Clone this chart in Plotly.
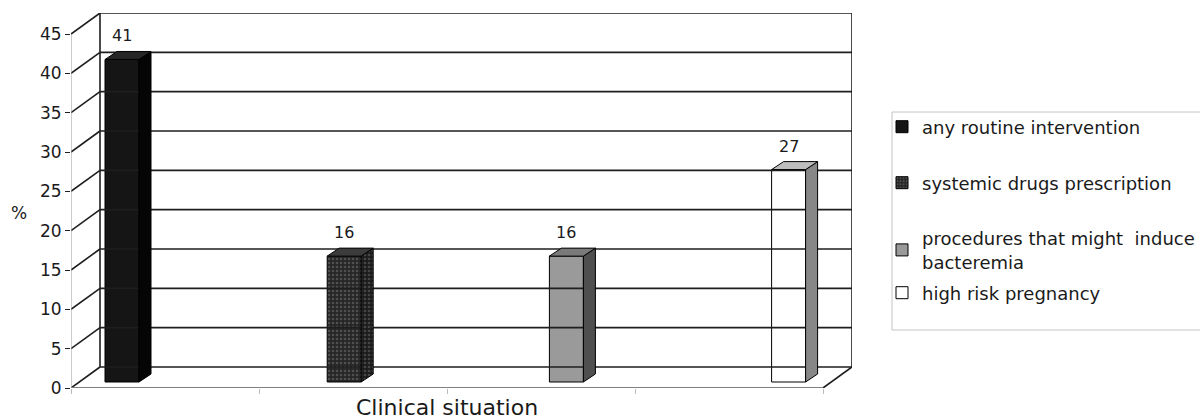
import plotly.graph_objects as go

# --- data ---------------------------------------------------------------
series = [
    "any routine intervention",
    "systemic drugs prescription",
    "procedures that might  induce<br>bacteremia",
    "high risk pregnancy",
]
values = [41, 16, 16, 27]
y_ticks = [0, 5, 10, 15, 20, 25, 30, 35, 40, 45]
x_title = "Clinical situation"
y_title = "%"

# --- styling --------------------------------------------------------------
front_col = ["#151515", "#2e2e2e", "#9a9a9a", "#ffffff"]
side_col = ["#050505", "#1c1c1c", "#4f4f4f", "#878787"]
top_col = ["#262626", "#3c3c3c", "#7a7a7a", "#bdbdbd"]
FONT = "DejaVu Sans"
INK = "#1a1a1a"

# plot area in pixels
L, R, T, B = 71, 852, 13, 388
PW, PH = R - L, B - T

# pseudo-3D geometry (x in pixel-like units, y in value units)
PPU = 375 / 47.67          # pixels per value unit
FLOOR_W = 752              # front floor width
DX, DY = 29, 21 / PPU      # wall depth offset
BAR_W = 34
BDX, BDY = 12, 8 / PPU     # bar depth offset
B0 = 6 / PPU               # bar base height above front floor line
FIRST_C, STEP = 51, 222.2
centers = [FIRST_C + STEP * i for i in range(len(values))]
YMAX = y_ticks[-1]

fig = go.Figure()

def seg(xs, ys, color="#1e1e1e", width=1.6):
    fig.add_trace(go.Scatter(x=xs, y=ys, mode="lines", showlegend=False,
                             hoverinfo="skip", line=dict(color=color, width=width)))

# side wall diagonals and back-wall gridlines
for t in y_ticks:
    seg([0, DX], [t, t + DY])
    seg([DX, FLOOR_W + DX], [t + DY, t + DY])
# wall edges
seg([DX, DX], [DY, YMAX + DY])
seg([FLOOR_W + DX, FLOOR_W + DX], [DY, YMAX + DY])
seg([FLOOR_W, FLOOR_W + DX], [0, DY])
seg([0, 0], [0, YMAX], color="#9a9a9a", width=1)
seg([0, FLOOR_W], [0, 0], color="#808080", width=2)

# bars: side and top faces as polygons, front face as a bar
legends = ["legend", "legend2", "legend3", "legend4"]
for i, (name, v, c) in enumerate(zip(series, values, centers)):
    l, r = c - BAR_W / 2, c + BAR_W / 2
    top = B0 + v
    pat = dict(shape=".", size=4, solidity=0.35, fgcolor="#707070",
               bgcolor=side_col[i]) if i == 1 else None
    fig.add_trace(go.Scatter(
        x=[r, r + BDX, r + BDX, r, r], y=[B0, B0 + BDY, top + BDY, top, B0],
        mode="lines", fill="toself", fillcolor=side_col[i],
        fillpattern=pat, line=dict(color="black", width=1),
        showlegend=False, hoverinfo="skip"))
    fig.add_trace(go.Scatter(
        x=[l, l + BDX, r + BDX, r, l], y=[top, top + BDY, top + BDY, top, top],
        mode="lines", fill="toself", fillcolor=top_col[i],
        line=dict(color="black", width=1), showlegend=False, hoverinfo="skip"))
    mk = dict(color=front_col[i], line=dict(color="black", width=1))
    if i == 1:
        mk["pattern"] = dict(shape=".", size=4, solidity=0.35,
                             fgcolor="#7a7a7a", bgcolor="#262626")
    fig.add_trace(go.Bar(x=[c], y=[v], base=[B0], width=[BAR_W], name=name,
                         marker=mk, legend=legends[i], hoverinfo="skip"))
    fig.add_annotation(x=c, y=top + BDY, text=str(v), showarrow=False,
                       yanchor="bottom", yshift=4,
                       font=dict(family=FONT, size=16, color=INK))

# axis titles (paper coordinates, outside the plot area)
fig.add_annotation(xref="paper", yref="paper",
                   x=(447 - L) / PW, y=(B - 408) / PH, text=x_title,
                   showarrow=False, xanchor="center", yanchor="middle",
                   font=dict(family=FONT, size=22, color=INK))
fig.add_annotation(xref="paper", yref="paper",
                   x=(19 - L) / PW, y=(B - 213) / PH, text=y_title,
                   showarrow=False, xanchor="center", yanchor="middle",
                   font=dict(family=FONT, size=17, color=INK))

# legend frame
fig.add_shape(type="rect", xref="paper", yref="paper",
              x0=(892 - L) / PW, x1=(1215 - L) / PW,
              y0=(B - 330) / PH, y1=(B - 112) / PH,
              line=dict(color="#c4c4c4", width=1), fillcolor="rgba(0,0,0,0)")

leg_y = [127, 183, 250, 293]
leg_common = dict(xref="container", yref="container", xanchor="left",
                  yanchor="middle", bgcolor="rgba(0,0,0,0)", borderwidth=0,
                  font=dict(family=FONT, size=18, color=INK))
layout_legends = {}
for key, py in zip(legends, leg_y):
    layout_legends[key] = dict(x=882 / 1200, y=1 - py / 419, **leg_common)

fig.update_layout(
    width=1200, height=419,
    margin=dict(l=L, r=1200 - R, t=T, b=419 - B, autoexpand=False),
    plot_bgcolor="white", paper_bgcolor="white",
    barmode="overlay",
    xaxis=dict(range=[0, FLOOR_W + DX], showgrid=False, zeroline=False,
               showline=False, tickvals=[0, 188, 376, 564, 752],
               ticks="outside", ticklen=5, tickcolor="#bbbbbb",
               showticklabels=False, fixedrange=True),
    yaxis=dict(range=[0, PH / PPU], showgrid=False, zeroline=False,
               showline=False, tickvals=y_ticks, ticks="outside",
               ticklen=5, tickcolor="#1e1e1e",
               tickfont=dict(family=FONT, size=17, color=INK),
               fixedrange=True),
    **layout_legends,
)

fig.write_html("out.html")
